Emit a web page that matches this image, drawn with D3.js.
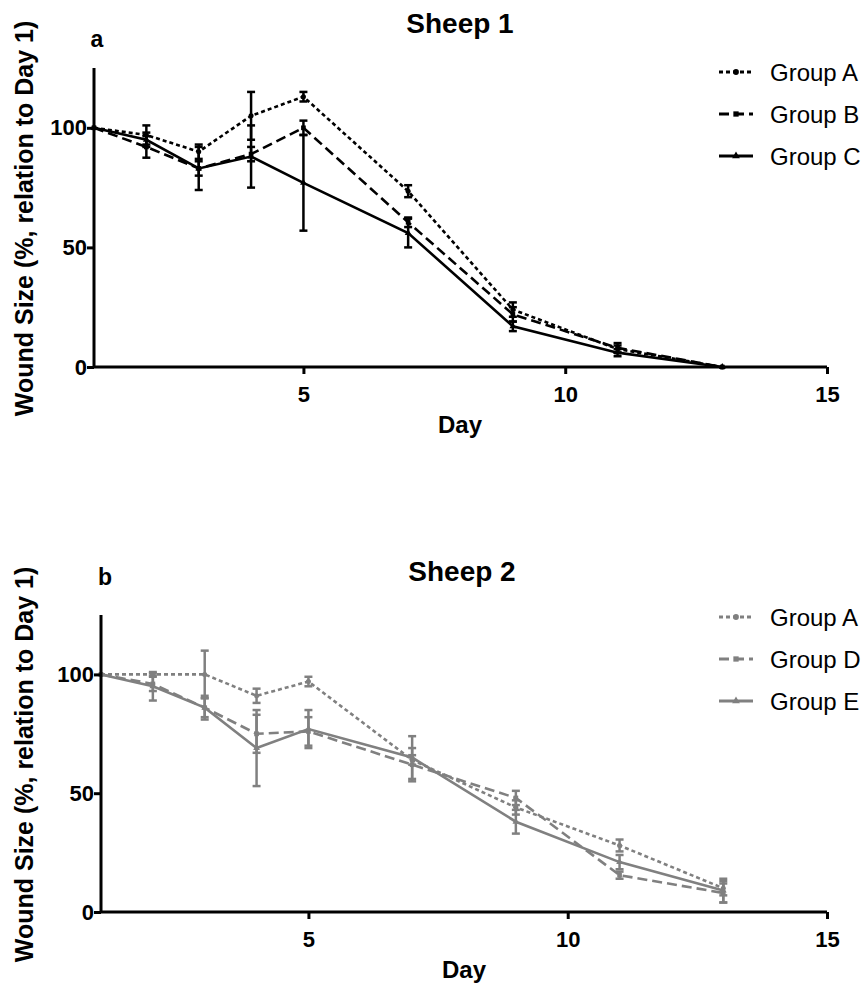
<!DOCTYPE html>
<html>
<head>
<meta charset="utf-8">
<script src="https://cdn.jsdelivr.net/npm/d3@7"></script>
<style>
  html, body { margin: 0; padding: 0; background: #fff; }
  svg { display: block; font-family: "Liberation Sans", Arial, sans-serif; }
</style>
</head>
<body>
<svg id="chart" width="864" height="984"></svg>
<script>
// Measurement days
const days = [1, 2, 3, 4, 5, 7, 9, 11, 13];

// Sheep 1 – mean wound size (% of day 1) and error
const s1GroupA = [100, 97, 90, 105, 113, 73.5, 24, 7.5, 0];
const s1GroupAErr = [0, 4, 3, 10, 2, 2.5, 3, 1.5, 0];
const s1GroupB = [100, 92, 83, 89, 100, 60.5, 22, 8, 0];
const s1GroupBErr = [0, 4.5, 3, 3, 3, 2, 3, 2, 0];
const s1GroupC = [100, 95, 83, 88, 77, 56, 17, 6, 0];
const s1GroupCErr = [0, 3, 9, 13, 20, 6, 2, 1.5, 0];

// Sheep 2
const s2GroupA = [100, 100, 100, 91, 97, 64, 44, 28, 10];
const s2GroupAErr = [0, 0.5, 10, 3, 2, 2, 3, 2.5, 3];
const s2GroupD = [100, 96, 86, 75, 76, 62, 48, 15.5, 8];
const s2GroupDErr = [0, 3, 4, 8, 6, 7, 3, 1.5, 4];
const s2GroupE = [100, 95, 86, 69, 77, 65, 38, 21, 9];
const s2GroupEErr = [0, 6, 5, 16, 8, 9, 5, 3, 5];

// Axis ticks
const xTicks = [5, 10, 15];
const yTicks = [0, 50, 100];

const svg = d3.select("#chart");

function drawPanel(cfg) {
  const x = d3.scaleLinear().domain([1, 15]).range([cfg.left, cfg.right]);
  const y = d3.scaleLinear().domain([0, 125]).range([cfg.bottom, cfg.top]);
  const g = svg.append("g");

  // Series
  cfg.series.forEach(s => {
    const pts = days.map((d, i) => ({ d, v: s.values[i], e: s.err[i] }));
    const line = d3.line().x(p => x(p.d)).y(p => y(p.v));
    g.append("path")
      .attr("d", line(pts))
      .attr("fill", "none")
      .attr("stroke", cfg.color)
      .attr("stroke-width", 2.6)
      .attr("stroke-dasharray", s.dash);

    // error bars
    const eb = g.append("g").attr("stroke", cfg.color).attr("stroke-width", 2.5);
    pts.filter(p => p.e > 0).forEach(p => {
      const cx = x(p.d);
      eb.append("line").attr("x1", cx).attr("x2", cx).attr("y1", y(p.v - p.e)).attr("y2", y(p.v + p.e));
      eb.append("line").attr("x1", cx - 4).attr("x2", cx + 4).attr("y1", y(p.v - p.e)).attr("y2", y(p.v - p.e));
      eb.append("line").attr("x1", cx - 4).attr("x2", cx + 4).attr("y1", y(p.v + p.e)).attr("y2", y(p.v + p.e));
    });

    // markers
    g.append("g").selectAll("path").data(pts).join("path")
      .attr("transform", p => `translate(${x(p.d)},${y(p.v)})`)
      .attr("d", d3.symbol().type(s.symbol).size(s.size))
      .attr("fill", cfg.color);
  });

  // Axes
  const yAxis = d3.axisLeft(y).tickValues(yTicks).tickSize(7).tickPadding(0).tickFormat(d3.format("d"));
  const yG = g.append("g").attr("transform", `translate(${cfg.left},0)`).call(yAxis);
  yG.select(".domain").attr("d", `M0,${cfg.top}V${cfg.bottom}`);

  const xAxis = d3.axisBottom(x).tickValues(xTicks).tickSize(7).tickPadding(12).tickFormat(d3.format("d"));
  const xG = g.append("g").attr("transform", `translate(0,${cfg.bottom})`).call(xAxis);
  xG.select(".domain").attr("d", `M${cfg.left},0H${cfg.right}`);

  [yG, xG].forEach(a => {
    a.selectAll(".domain, .tick line").attr("stroke", "#000").attr("stroke-width", 3);
    a.selectAll("text").attr("fill", "#000").attr("font-size", 22).attr("font-weight", "bold")
      .attr("font-family", "Liberation Sans, Arial, sans-serif");
  });

  // Titles and labels
  svg.append("text").attr("x", cfg.titleX).attr("y", cfg.titleY).attr("text-anchor", "middle")
    .attr("font-size", 28).attr("font-weight", "bold").text(cfg.title);
  svg.append("text").attr("x", cfg.letterX).attr("y", cfg.letterY).attr("text-anchor", "middle")
    .attr("font-size", 23).attr("font-weight", "bold").text(cfg.letter);
  svg.append("text").attr("x", cfg.dayX).attr("y", cfg.bottom + 66).attr("text-anchor", "middle")
    .attr("font-size", 24).attr("font-weight", "bold").text("Day");
  svg.append("text")
    .attr("transform", `translate(33,${(cfg.top + cfg.bottom) / 2 + 1}) rotate(-90)`)
    .attr("text-anchor", "middle")
    .attr("font-size", 25).attr("font-weight", "bold")
    .text("Wound Size (%, relation to Day 1)");

  // Legend
  const lg = svg.append("g");
  cfg.series.forEach((s, i) => {
    const ly = cfg.legendY + i * 42;
    lg.append("line").attr("x1", 719).attr("x2", 753).attr("y1", ly).attr("y2", ly)
      .attr("stroke", cfg.color).attr("stroke-width", 2.8).attr("stroke-dasharray", s.dash);
    lg.append("path").attr("transform", `translate(736,${ly})`)
      .attr("d", d3.symbol().type(s.symbol).size(s.size + 6)).attr("fill", cfg.color);
    lg.append("text").attr("x", 770).attr("y", ly).attr("dy", "0.36em")
      .attr("font-size", 24).attr("fill", "#000").text(s.name);
  });
}

drawPanel({
  left: 94, right: 827, top: 68, bottom: 367,
  color: "#000",
  title: "Sheep 1", titleX: 460, titleY: 33,
  letter: "a", letterX: 97, letterY: 47,
  dayX: 460,
  legendY: 72,
  series: [
    { name: "Group A", values: s1GroupA, err: s1GroupAErr, dash: "4,3", symbol: d3.symbolCircle, size: 20 },
    { name: "Group B", values: s1GroupB, err: s1GroupBErr, dash: "10,5", symbol: d3.symbolSquare, size: 22 },
    { name: "Group C", values: s1GroupC, err: s1GroupCErr, dash: null, symbol: d3.symbolTriangle, size: 20 }
  ]
});

drawPanel({
  left: 101, right: 827, top: 615, bottom: 912,
  color: "#808080",
  title: "Sheep 2", titleX: 462, titleY: 581,
  letter: "b", letterX: 105, letterY: 585,
  dayX: 464,
  legendY: 617,
  series: [
    { name: "Group A", values: s2GroupA, err: s2GroupAErr, dash: "4,3", symbol: d3.symbolCircle, size: 20 },
    { name: "Group D", values: s2GroupD, err: s2GroupDErr, dash: "10,5", symbol: d3.symbolSquare, size: 22 },
    { name: "Group E", values: s2GroupE, err: s2GroupEErr, dash: null, symbol: d3.symbolTriangle, size: 20 }
  ]
});
</script>
</body>
</html>
